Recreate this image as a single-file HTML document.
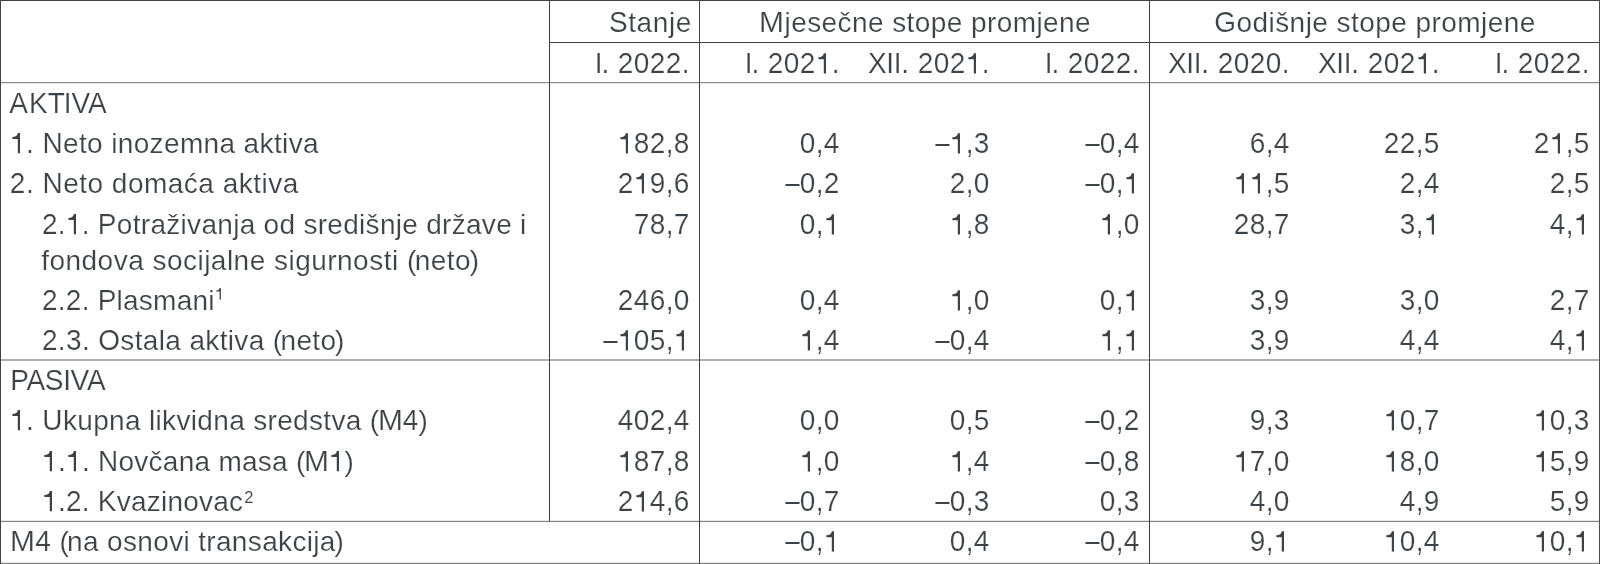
<!DOCTYPE html>
<html><head><meta charset="utf-8"><title>table</title>
<style>
html,body{margin:0;padding:0;background:#fff;}
body{width:1600px;height:564px;position:relative;overflow:hidden;font-family:"Liberation Sans",sans-serif;font-size:28px;color:#3d4247;line-height:32px;}
#w{position:absolute;left:0;top:0;width:1600px;height:564px;will-change:transform;-webkit-text-stroke:0.2px #fff;}
.t{position:absolute;white-space:nowrap;height:32px;}
.r{text-align:right;}
.sy{transform:scaleY(1.036);transform-origin:0 25.5px;}
.c{text-align:center;}
.l{position:absolute;background:#4a4f54;}
.ib{display:inline-block;}
.sm{transform:scale(1.07,1.036);transform-origin:0 25.5px;}
.d{display:inline-block;transform:scaleX(0.925);transform-origin:100% 50%;}
.o{display:inline-block;vertical-align:baseline;fill:#3d4247;overflow:visible;}
sup{font-size:16.5px;line-height:0;vertical-align:baseline;position:relative;top:-10px;letter-spacing:0;margin-left:1.5px;-webkit-text-stroke:0.1px #fff;}
</style></head><body><div id="w">

<div class="l" style="left:0px;top:82px;width:1600px;height:1px;background:#85888b"></div>
<div class="l" style="left:0px;top:83px;width:1600px;height:1px;background:#e6e7e7"></div>
<div class="l" style="left:0px;top:359px;width:1600px;height:2px;background:#adafb1"></div>
<div class="l" style="left:0px;top:520px;width:1600px;height:1px;background:#e6e7e7"></div>
<div class="l" style="left:0px;top:521px;width:1600px;height:1px;background:#7e8184"></div>
<div class="l" style="left:0px;top:562px;width:1600px;height:1px;background:#e8e8e8"></div>
<div class="l" style="left:0px;top:563px;width:1600px;height:1px;background:#7d8083"></div>
<div class="l" style="left:549px;top:42px;width:1051px;height:1px;background:#3d4247"></div>
<div class="l" style="left:0px;top:0px;width:1600px;height:1px;background:#3d4247"></div>
<div class="l" style="left:0px;top:0px;width:1px;height:564px;background:#3d4247"></div>
<div class="l" style="left:1599px;top:0px;width:1px;height:564px;background:#474c51"></div>
<div class="l" style="left:549px;top:0px;width:1px;height:521px;background:#3d4247"></div>
<div class="l" style="left:699px;top:0px;width:1px;height:564px;background:#3d4247"></div>
<div class="l" style="left:1149px;top:0px;width:1px;height:564px;background:#3d4247"></div>
<div class="t r" style="left:491.90px;width:200px;top:7.30px;letter-spacing:0.600px"><span class="sy ib">S</span>tanje</div>
<div class="t c" style="left:675.21px;width:500px;top:7.30px;letter-spacing:0.420px"><span class="sm ib" style="letter-spacing:1.920px">M</span>jesečne stope promjene</div>
<div class="t c" style="left:1125.02px;width:500px;top:7.30px;letter-spacing:0.445px"><span class="sy ib">G</span>odišnje stope promjene</div>
<div class="t r sy" style="left:489.94px;width:200px;top:48.30px;letter-spacing:0.440px"><span style="letter-spacing:-0.8px">I</span><span style="letter-spacing:0.24px">. </span>2022.</div>
<div class="t r sy" style="left:639.94px;width:200px;top:48.30px;letter-spacing:0.440px"><span style="letter-spacing:-0.8px">I</span><span style="letter-spacing:0.24px">. </span>202<svg class="o" viewBox="0 0 15.57 20.15" preserveAspectRatio="none" style="width:15.57px;height:19.45px;margin-right:0.440px"><path d="M10.0,0 L10.0,20.15 L7.8,20.15 L7.8,5.95 L2.4,5.95 L2.4,4.0 C5.6,4.0 7.4,2.9 7.9,0 Z"/></svg>.</div>
<div class="t r sy" style="left:789.94px;width:200px;top:48.30px;letter-spacing:0.440px"><span style="letter-spacing:-0.35px">XII</span>. 202<svg class="o" viewBox="0 0 15.57 20.15" preserveAspectRatio="none" style="width:15.57px;height:19.45px;margin-right:0.440px"><path d="M10.0,0 L10.0,20.15 L7.8,20.15 L7.8,5.95 L2.4,5.95 L2.4,4.0 C5.6,4.0 7.4,2.9 7.9,0 Z"/></svg>.</div>
<div class="t r sy" style="left:939.94px;width:200px;top:48.30px;letter-spacing:0.440px"><span style="letter-spacing:-0.8px">I</span><span style="letter-spacing:0.24px">. </span>2022.</div>
<div class="t r sy" style="left:1089.94px;width:200px;top:48.30px;letter-spacing:0.440px"><span style="letter-spacing:-0.35px">XII</span>. 2020.</div>
<div class="t r sy" style="left:1239.94px;width:200px;top:48.30px;letter-spacing:0.440px"><span style="letter-spacing:-0.35px">XII</span>. 202<svg class="o" viewBox="0 0 15.57 20.15" preserveAspectRatio="none" style="width:15.57px;height:19.45px;margin-right:0.440px"><path d="M10.0,0 L10.0,20.15 L7.8,20.15 L7.8,5.95 L2.4,5.95 L2.4,4.0 C5.6,4.0 7.4,2.9 7.9,0 Z"/></svg>.</div>
<div class="t r sy" style="left:1389.94px;width:200px;top:48.30px;letter-spacing:0.440px"><span style="letter-spacing:-0.8px">I</span><span style="letter-spacing:0.24px">. </span>2022.</div>
<div class="t sy" style="left:9.2px;top:88.30px;letter-spacing:0.000px"><span style="letter-spacing:1.2px">A</span>K<span style="letter-spacing:-1.2px">T</span>IVA</div>
<div class="t" style="left:10.2px;top:128.30px;letter-spacing:0.363px"><svg class="o" viewBox="0 0 15.57 20.15" preserveAspectRatio="none" style="width:15.57px;height:20.15px;margin-right:0.363px"><path d="M10.0,0 L10.0,20.15 L7.8,20.15 L7.8,5.95 L2.4,5.95 L2.4,4.0 C5.6,4.0 7.4,2.9 7.9,0 Z"/></svg>. <span class="sy ib">N</span>eto inozemna aktiva</div>
<div class="t r sy" style="left:489.80px;width:200px;top:128.30px;letter-spacing:0.400px"><svg class="o" viewBox="0 0 15.57 20.15" preserveAspectRatio="none" style="width:15.57px;height:19.45px;margin-right:0.400px"><path d="M10.0,0 L10.0,20.15 L7.8,20.15 L7.8,5.95 L2.4,5.95 L2.4,4.0 C5.6,4.0 7.4,2.9 7.9,0 Z"/></svg>82,8</div>
<div class="t r sy" style="left:639.80px;width:200px;top:128.30px;letter-spacing:0.400px">0,4</div>
<div class="t r sy" style="left:789.80px;width:200px;top:128.30px;letter-spacing:0.400px"><span class="d">–</span><svg class="o" viewBox="0 0 15.57 20.15" preserveAspectRatio="none" style="width:15.57px;height:19.45px;margin-right:0.400px"><path d="M10.0,0 L10.0,20.15 L7.8,20.15 L7.8,5.95 L2.4,5.95 L2.4,4.0 C5.6,4.0 7.4,2.9 7.9,0 Z"/></svg>,3</div>
<div class="t r sy" style="left:939.80px;width:200px;top:128.30px;letter-spacing:0.400px"><span class="d">–</span>0,4</div>
<div class="t r sy" style="left:1089.80px;width:200px;top:128.30px;letter-spacing:0.400px">6,4</div>
<div class="t r sy" style="left:1239.80px;width:200px;top:128.30px;letter-spacing:0.400px">22,5</div>
<div class="t r sy" style="left:1389.80px;width:200px;top:128.30px;letter-spacing:0.400px">2<svg class="o" viewBox="0 0 15.57 20.15" preserveAspectRatio="none" style="width:15.57px;height:19.45px;margin-right:0.400px"><path d="M10.0,0 L10.0,20.15 L7.8,20.15 L7.8,5.95 L2.4,5.95 L2.4,4.0 C5.6,4.0 7.4,2.9 7.9,0 Z"/></svg>,5</div>
<div class="t" style="left:9.799999999999999px;top:168.30px;letter-spacing:0.496px"><span class="sy ib">2</span>. <span class="sy ib">N</span>eto domaća aktiva</div>
<div class="t r sy" style="left:489.80px;width:200px;top:168.30px;letter-spacing:0.400px">2<svg class="o" viewBox="0 0 15.57 20.15" preserveAspectRatio="none" style="width:15.57px;height:19.45px;margin-right:0.400px"><path d="M10.0,0 L10.0,20.15 L7.8,20.15 L7.8,5.95 L2.4,5.95 L2.4,4.0 C5.6,4.0 7.4,2.9 7.9,0 Z"/></svg>9,6</div>
<div class="t r sy" style="left:639.80px;width:200px;top:168.30px;letter-spacing:0.400px"><span class="d">–</span>0,2</div>
<div class="t r sy" style="left:789.80px;width:200px;top:168.30px;letter-spacing:0.400px">2,0</div>
<div class="t r sy" style="left:939.80px;width:200px;top:168.30px;letter-spacing:0.400px"><span class="d">–</span>0,<svg class="o" viewBox="0 0 15.57 20.15" preserveAspectRatio="none" style="width:15.57px;height:19.45px;margin-right:0.400px"><path d="M10.0,0 L10.0,20.15 L7.8,20.15 L7.8,5.95 L2.4,5.95 L2.4,4.0 C5.6,4.0 7.4,2.9 7.9,0 Z"/></svg></div>
<div class="t r sy" style="left:1089.80px;width:200px;top:168.30px;letter-spacing:0.400px"><svg class="o" viewBox="0 0 15.57 20.15" preserveAspectRatio="none" style="width:15.57px;height:19.45px;margin-right:0.400px"><path d="M10.0,0 L10.0,20.15 L7.8,20.15 L7.8,5.95 L2.4,5.95 L2.4,4.0 C5.6,4.0 7.4,2.9 7.9,0 Z"/></svg><svg class="o" viewBox="0 0 15.57 20.15" preserveAspectRatio="none" style="width:15.57px;height:19.45px;margin-right:0.400px"><path d="M10.0,0 L10.0,20.15 L7.8,20.15 L7.8,5.95 L2.4,5.95 L2.4,4.0 C5.6,4.0 7.4,2.9 7.9,0 Z"/></svg>,5</div>
<div class="t r sy" style="left:1239.80px;width:200px;top:168.30px;letter-spacing:0.400px">2,4</div>
<div class="t r sy" style="left:1389.80px;width:200px;top:168.30px;letter-spacing:0.400px">2,5</div>
<div class="t" style="left:41.900000000000006px;top:209.30px;letter-spacing:0.297px"><span class="sy ib">2</span>.<svg class="o" viewBox="0 0 15.57 20.15" preserveAspectRatio="none" style="width:15.57px;height:20.15px;margin-right:0.297px"><path d="M10.0,0 L10.0,20.15 L7.8,20.15 L7.8,5.95 L2.4,5.95 L2.4,4.0 C5.6,4.0 7.4,2.9 7.9,0 Z"/></svg>. <span class="sy ib">P</span>otraživanja od središnje države i</div>
<div class="t r sy" style="left:489.80px;width:200px;top:209.30px;letter-spacing:0.400px">78,7</div>
<div class="t r sy" style="left:639.80px;width:200px;top:209.30px;letter-spacing:0.400px">0,<svg class="o" viewBox="0 0 15.57 20.15" preserveAspectRatio="none" style="width:15.57px;height:19.45px;margin-right:0.400px"><path d="M10.0,0 L10.0,20.15 L7.8,20.15 L7.8,5.95 L2.4,5.95 L2.4,4.0 C5.6,4.0 7.4,2.9 7.9,0 Z"/></svg></div>
<div class="t r sy" style="left:789.80px;width:200px;top:209.30px;letter-spacing:0.400px"><svg class="o" viewBox="0 0 15.57 20.15" preserveAspectRatio="none" style="width:15.57px;height:19.45px;margin-right:0.400px"><path d="M10.0,0 L10.0,20.15 L7.8,20.15 L7.8,5.95 L2.4,5.95 L2.4,4.0 C5.6,4.0 7.4,2.9 7.9,0 Z"/></svg>,8</div>
<div class="t r sy" style="left:939.80px;width:200px;top:209.30px;letter-spacing:0.400px"><svg class="o" viewBox="0 0 15.57 20.15" preserveAspectRatio="none" style="width:15.57px;height:19.45px;margin-right:0.400px"><path d="M10.0,0 L10.0,20.15 L7.8,20.15 L7.8,5.95 L2.4,5.95 L2.4,4.0 C5.6,4.0 7.4,2.9 7.9,0 Z"/></svg>,0</div>
<div class="t r sy" style="left:1089.80px;width:200px;top:209.30px;letter-spacing:0.400px">28,7</div>
<div class="t r sy" style="left:1239.80px;width:200px;top:209.30px;letter-spacing:0.400px">3,<svg class="o" viewBox="0 0 15.57 20.15" preserveAspectRatio="none" style="width:15.57px;height:19.45px;margin-right:0.400px"><path d="M10.0,0 L10.0,20.15 L7.8,20.15 L7.8,5.95 L2.4,5.95 L2.4,4.0 C5.6,4.0 7.4,2.9 7.9,0 Z"/></svg></div>
<div class="t r sy" style="left:1389.80px;width:200px;top:209.30px;letter-spacing:0.400px">4,<svg class="o" viewBox="0 0 15.57 20.15" preserveAspectRatio="none" style="width:15.57px;height:19.45px;margin-right:0.400px"><path d="M10.0,0 L10.0,20.15 L7.8,20.15 L7.8,5.95 L2.4,5.95 L2.4,4.0 C5.6,4.0 7.4,2.9 7.9,0 Z"/></svg></div>
<div class="t" style="left:41.2px;top:245.30px;letter-spacing:0.480px">fondova socijalne sigurnosti <span style="letter-spacing:-1.520px">(</span>neto<span style="margin-left:-1.4px">)</span></div>
<div class="t" style="left:42.0px;top:285.30px;letter-spacing:0.235px"><span class="sy ib">2</span>.<span class="sy ib">2</span>. <span class="sy ib">P</span>lasmani<sup style="margin-left:0.2px"><svg class="o" viewBox="0 0 15.57 20.15" preserveAspectRatio="none" style="width:9.18px;height:11.87px;margin-right:0.000px"><path d="M10.0,0 L10.0,20.15 L7.8,20.15 L7.8,5.95 L2.4,5.95 L2.4,4.0 C5.6,4.0 7.4,2.9 7.9,0 Z"/></svg></sup></div>
<div class="t r sy" style="left:489.80px;width:200px;top:285.30px;letter-spacing:0.400px">246,0</div>
<div class="t r sy" style="left:639.80px;width:200px;top:285.30px;letter-spacing:0.400px">0,4</div>
<div class="t r sy" style="left:789.80px;width:200px;top:285.30px;letter-spacing:0.400px"><svg class="o" viewBox="0 0 15.57 20.15" preserveAspectRatio="none" style="width:15.57px;height:19.45px;margin-right:0.400px"><path d="M10.0,0 L10.0,20.15 L7.8,20.15 L7.8,5.95 L2.4,5.95 L2.4,4.0 C5.6,4.0 7.4,2.9 7.9,0 Z"/></svg>,0</div>
<div class="t r sy" style="left:939.80px;width:200px;top:285.30px;letter-spacing:0.400px">0,<svg class="o" viewBox="0 0 15.57 20.15" preserveAspectRatio="none" style="width:15.57px;height:19.45px;margin-right:0.400px"><path d="M10.0,0 L10.0,20.15 L7.8,20.15 L7.8,5.95 L2.4,5.95 L2.4,4.0 C5.6,4.0 7.4,2.9 7.9,0 Z"/></svg></div>
<div class="t r sy" style="left:1089.80px;width:200px;top:285.30px;letter-spacing:0.400px">3,9</div>
<div class="t r sy" style="left:1239.80px;width:200px;top:285.30px;letter-spacing:0.400px">3,0</div>
<div class="t r sy" style="left:1389.80px;width:200px;top:285.30px;letter-spacing:0.400px">2,7</div>
<div class="t" style="left:41.900000000000006px;top:325.30px;letter-spacing:0.354px"><span class="sy ib">2</span>.<span class="sy ib">3</span>. <span class="sy ib">O</span>stala aktiva <span style="letter-spacing:-1.646px">(</span>neto<span style="margin-left:-1.4px">)</span></div>
<div class="t r sy" style="left:489.80px;width:200px;top:325.30px;letter-spacing:0.400px"><span class="d">–</span><svg class="o" viewBox="0 0 15.57 20.15" preserveAspectRatio="none" style="width:15.57px;height:19.45px;margin-right:0.400px"><path d="M10.0,0 L10.0,20.15 L7.8,20.15 L7.8,5.95 L2.4,5.95 L2.4,4.0 C5.6,4.0 7.4,2.9 7.9,0 Z"/></svg>05,<svg class="o" viewBox="0 0 15.57 20.15" preserveAspectRatio="none" style="width:15.57px;height:19.45px;margin-right:0.400px"><path d="M10.0,0 L10.0,20.15 L7.8,20.15 L7.8,5.95 L2.4,5.95 L2.4,4.0 C5.6,4.0 7.4,2.9 7.9,0 Z"/></svg></div>
<div class="t r sy" style="left:639.80px;width:200px;top:325.30px;letter-spacing:0.400px"><svg class="o" viewBox="0 0 15.57 20.15" preserveAspectRatio="none" style="width:15.57px;height:19.45px;margin-right:0.400px"><path d="M10.0,0 L10.0,20.15 L7.8,20.15 L7.8,5.95 L2.4,5.95 L2.4,4.0 C5.6,4.0 7.4,2.9 7.9,0 Z"/></svg>,4</div>
<div class="t r sy" style="left:789.80px;width:200px;top:325.30px;letter-spacing:0.400px"><span class="d">–</span>0,4</div>
<div class="t r sy" style="left:939.80px;width:200px;top:325.30px;letter-spacing:0.400px"><svg class="o" viewBox="0 0 15.57 20.15" preserveAspectRatio="none" style="width:15.57px;height:19.45px;margin-right:0.400px"><path d="M10.0,0 L10.0,20.15 L7.8,20.15 L7.8,5.95 L2.4,5.95 L2.4,4.0 C5.6,4.0 7.4,2.9 7.9,0 Z"/></svg>,<svg class="o" viewBox="0 0 15.57 20.15" preserveAspectRatio="none" style="width:15.57px;height:19.45px;margin-right:0.400px"><path d="M10.0,0 L10.0,20.15 L7.8,20.15 L7.8,5.95 L2.4,5.95 L2.4,4.0 C5.6,4.0 7.4,2.9 7.9,0 Z"/></svg></div>
<div class="t r sy" style="left:1089.80px;width:200px;top:325.30px;letter-spacing:0.400px">3,9</div>
<div class="t r sy" style="left:1239.80px;width:200px;top:325.30px;letter-spacing:0.400px">4,4</div>
<div class="t r sy" style="left:1389.80px;width:200px;top:325.30px;letter-spacing:0.400px">4,<svg class="o" viewBox="0 0 15.57 20.15" preserveAspectRatio="none" style="width:15.57px;height:19.45px;margin-right:0.400px"><path d="M10.0,0 L10.0,20.15 L7.8,20.15 L7.8,5.95 L2.4,5.95 L2.4,4.0 C5.6,4.0 7.4,2.9 7.9,0 Z"/></svg></div>
<div class="t sy" style="left:10.2px;top:365.30px;letter-spacing:-0.324px">PASIVA</div>
<div class="t" style="left:10.2px;top:405.30px;letter-spacing:0.338px"><svg class="o" viewBox="0 0 15.57 20.15" preserveAspectRatio="none" style="width:15.57px;height:20.15px;margin-right:0.338px"><path d="M10.0,0 L10.0,20.15 L7.8,20.15 L7.8,5.95 L2.4,5.95 L2.4,4.0 C5.6,4.0 7.4,2.9 7.9,0 Z"/></svg>. <span class="sy ib">U</span>kupna likvidna sredstva <span style="letter-spacing:-1.662px">(</span><span class="sm ib" style="letter-spacing:1.838px">M</span><span class="sy ib">4</span>)</div>
<div class="t r sy" style="left:489.80px;width:200px;top:405.30px;letter-spacing:0.400px">402,4</div>
<div class="t r sy" style="left:639.80px;width:200px;top:405.30px;letter-spacing:0.400px">0,0</div>
<div class="t r sy" style="left:789.80px;width:200px;top:405.30px;letter-spacing:0.400px">0,5</div>
<div class="t r sy" style="left:939.80px;width:200px;top:405.30px;letter-spacing:0.400px"><span class="d">–</span>0,2</div>
<div class="t r sy" style="left:1089.80px;width:200px;top:405.30px;letter-spacing:0.400px">9,3</div>
<div class="t r sy" style="left:1239.80px;width:200px;top:405.30px;letter-spacing:0.400px"><svg class="o" viewBox="0 0 15.57 20.15" preserveAspectRatio="none" style="width:15.57px;height:19.45px;margin-right:0.400px"><path d="M10.0,0 L10.0,20.15 L7.8,20.15 L7.8,5.95 L2.4,5.95 L2.4,4.0 C5.6,4.0 7.4,2.9 7.9,0 Z"/></svg>0,7</div>
<div class="t r sy" style="left:1389.80px;width:200px;top:405.30px;letter-spacing:0.400px"><svg class="o" viewBox="0 0 15.57 20.15" preserveAspectRatio="none" style="width:15.57px;height:19.45px;margin-right:0.400px"><path d="M10.0,0 L10.0,20.15 L7.8,20.15 L7.8,5.95 L2.4,5.95 L2.4,4.0 C5.6,4.0 7.4,2.9 7.9,0 Z"/></svg>0,3</div>
<div class="t" style="left:42.2px;top:446.30px;letter-spacing:0.266px"><svg class="o" viewBox="0 0 15.57 20.15" preserveAspectRatio="none" style="width:15.57px;height:20.15px;margin-right:0.266px"><path d="M10.0,0 L10.0,20.15 L7.8,20.15 L7.8,5.95 L2.4,5.95 L2.4,4.0 C5.6,4.0 7.4,2.9 7.9,0 Z"/></svg>.<svg class="o" viewBox="0 0 15.57 20.15" preserveAspectRatio="none" style="width:15.57px;height:20.15px;margin-right:0.266px"><path d="M10.0,0 L10.0,20.15 L7.8,20.15 L7.8,5.95 L2.4,5.95 L2.4,4.0 C5.6,4.0 7.4,2.9 7.9,0 Z"/></svg>. <span class="sy ib">N</span>ovčana masa <span style="letter-spacing:-1.734px">(</span><span class="sm ib" style="letter-spacing:1.766px">M</span><svg class="o" viewBox="0 0 15.57 20.15" preserveAspectRatio="none" style="width:15.57px;height:20.15px;margin-right:0.266px"><path d="M10.0,0 L10.0,20.15 L7.8,20.15 L7.8,5.95 L2.4,5.95 L2.4,4.0 C5.6,4.0 7.4,2.9 7.9,0 Z"/></svg>)</div>
<div class="t r sy" style="left:489.80px;width:200px;top:446.30px;letter-spacing:0.400px"><svg class="o" viewBox="0 0 15.57 20.15" preserveAspectRatio="none" style="width:15.57px;height:19.45px;margin-right:0.400px"><path d="M10.0,0 L10.0,20.15 L7.8,20.15 L7.8,5.95 L2.4,5.95 L2.4,4.0 C5.6,4.0 7.4,2.9 7.9,0 Z"/></svg>87,8</div>
<div class="t r sy" style="left:639.80px;width:200px;top:446.30px;letter-spacing:0.400px"><svg class="o" viewBox="0 0 15.57 20.15" preserveAspectRatio="none" style="width:15.57px;height:19.45px;margin-right:0.400px"><path d="M10.0,0 L10.0,20.15 L7.8,20.15 L7.8,5.95 L2.4,5.95 L2.4,4.0 C5.6,4.0 7.4,2.9 7.9,0 Z"/></svg>,0</div>
<div class="t r sy" style="left:789.80px;width:200px;top:446.30px;letter-spacing:0.400px"><svg class="o" viewBox="0 0 15.57 20.15" preserveAspectRatio="none" style="width:15.57px;height:19.45px;margin-right:0.400px"><path d="M10.0,0 L10.0,20.15 L7.8,20.15 L7.8,5.95 L2.4,5.95 L2.4,4.0 C5.6,4.0 7.4,2.9 7.9,0 Z"/></svg>,4</div>
<div class="t r sy" style="left:939.80px;width:200px;top:446.30px;letter-spacing:0.400px"><span class="d">–</span>0,8</div>
<div class="t r sy" style="left:1089.80px;width:200px;top:446.30px;letter-spacing:0.400px"><svg class="o" viewBox="0 0 15.57 20.15" preserveAspectRatio="none" style="width:15.57px;height:19.45px;margin-right:0.400px"><path d="M10.0,0 L10.0,20.15 L7.8,20.15 L7.8,5.95 L2.4,5.95 L2.4,4.0 C5.6,4.0 7.4,2.9 7.9,0 Z"/></svg>7,0</div>
<div class="t r sy" style="left:1239.80px;width:200px;top:446.30px;letter-spacing:0.400px"><svg class="o" viewBox="0 0 15.57 20.15" preserveAspectRatio="none" style="width:15.57px;height:19.45px;margin-right:0.400px"><path d="M10.0,0 L10.0,20.15 L7.8,20.15 L7.8,5.95 L2.4,5.95 L2.4,4.0 C5.6,4.0 7.4,2.9 7.9,0 Z"/></svg>8,0</div>
<div class="t r sy" style="left:1389.80px;width:200px;top:446.30px;letter-spacing:0.400px"><svg class="o" viewBox="0 0 15.57 20.15" preserveAspectRatio="none" style="width:15.57px;height:19.45px;margin-right:0.400px"><path d="M10.0,0 L10.0,20.15 L7.8,20.15 L7.8,5.95 L2.4,5.95 L2.4,4.0 C5.6,4.0 7.4,2.9 7.9,0 Z"/></svg>5,9</div>
<div class="t" style="left:42.2px;top:486.30px;letter-spacing:0.233px"><svg class="o" viewBox="0 0 15.57 20.15" preserveAspectRatio="none" style="width:15.57px;height:20.15px;margin-right:0.233px"><path d="M10.0,0 L10.0,20.15 L7.8,20.15 L7.8,5.95 L2.4,5.95 L2.4,4.0 C5.6,4.0 7.4,2.9 7.9,0 Z"/></svg>.<span class="sy ib">2</span>. <span class="sy ib">K</span>vazinovac<sup style="margin-left:1px;top:-8.8px">2</sup></div>
<div class="t r sy" style="left:489.80px;width:200px;top:486.30px;letter-spacing:0.400px">2<svg class="o" viewBox="0 0 15.57 20.15" preserveAspectRatio="none" style="width:15.57px;height:19.45px;margin-right:0.400px"><path d="M10.0,0 L10.0,20.15 L7.8,20.15 L7.8,5.95 L2.4,5.95 L2.4,4.0 C5.6,4.0 7.4,2.9 7.9,0 Z"/></svg>4,6</div>
<div class="t r sy" style="left:639.80px;width:200px;top:486.30px;letter-spacing:0.400px"><span class="d">–</span>0,7</div>
<div class="t r sy" style="left:789.80px;width:200px;top:486.30px;letter-spacing:0.400px"><span class="d">–</span>0,3</div>
<div class="t r sy" style="left:939.80px;width:200px;top:486.30px;letter-spacing:0.400px">0,3</div>
<div class="t r sy" style="left:1089.80px;width:200px;top:486.30px;letter-spacing:0.400px">4,0</div>
<div class="t r sy" style="left:1239.80px;width:200px;top:486.30px;letter-spacing:0.400px">4,9</div>
<div class="t r sy" style="left:1389.80px;width:200px;top:486.30px;letter-spacing:0.400px">5,9</div>
<div class="t" style="left:10.2px;top:526.30px;letter-spacing:0.344px"><span class="sm ib" style="letter-spacing:1.844px">M</span><span class="sy ib">4</span> <span style="letter-spacing:-1.656px">(</span>na osnovi transakcija<span style="margin-left:-1.4px">)</span></div>
<div class="t r sy" style="left:639.80px;width:200px;top:526.30px;letter-spacing:0.400px"><span class="d">–</span>0,<svg class="o" viewBox="0 0 15.57 20.15" preserveAspectRatio="none" style="width:15.57px;height:19.45px;margin-right:0.400px"><path d="M10.0,0 L10.0,20.15 L7.8,20.15 L7.8,5.95 L2.4,5.95 L2.4,4.0 C5.6,4.0 7.4,2.9 7.9,0 Z"/></svg></div>
<div class="t r sy" style="left:789.80px;width:200px;top:526.30px;letter-spacing:0.400px">0,4</div>
<div class="t r sy" style="left:939.80px;width:200px;top:526.30px;letter-spacing:0.400px"><span class="d">–</span>0,4</div>
<div class="t r sy" style="left:1089.80px;width:200px;top:526.30px;letter-spacing:0.400px">9,<svg class="o" viewBox="0 0 15.57 20.15" preserveAspectRatio="none" style="width:15.57px;height:19.45px;margin-right:0.400px"><path d="M10.0,0 L10.0,20.15 L7.8,20.15 L7.8,5.95 L2.4,5.95 L2.4,4.0 C5.6,4.0 7.4,2.9 7.9,0 Z"/></svg></div>
<div class="t r sy" style="left:1239.80px;width:200px;top:526.30px;letter-spacing:0.400px"><svg class="o" viewBox="0 0 15.57 20.15" preserveAspectRatio="none" style="width:15.57px;height:19.45px;margin-right:0.400px"><path d="M10.0,0 L10.0,20.15 L7.8,20.15 L7.8,5.95 L2.4,5.95 L2.4,4.0 C5.6,4.0 7.4,2.9 7.9,0 Z"/></svg>0,4</div>
<div class="t r sy" style="left:1389.80px;width:200px;top:526.30px;letter-spacing:0.400px"><svg class="o" viewBox="0 0 15.57 20.15" preserveAspectRatio="none" style="width:15.57px;height:19.45px;margin-right:0.400px"><path d="M10.0,0 L10.0,20.15 L7.8,20.15 L7.8,5.95 L2.4,5.95 L2.4,4.0 C5.6,4.0 7.4,2.9 7.9,0 Z"/></svg>0,<svg class="o" viewBox="0 0 15.57 20.15" preserveAspectRatio="none" style="width:15.57px;height:19.45px;margin-right:0.400px"><path d="M10.0,0 L10.0,20.15 L7.8,20.15 L7.8,5.95 L2.4,5.95 L2.4,4.0 C5.6,4.0 7.4,2.9 7.9,0 Z"/></svg></div>
</div></body></html>
